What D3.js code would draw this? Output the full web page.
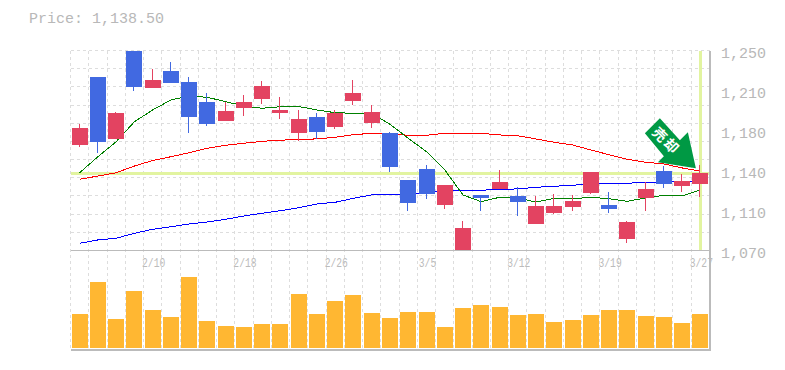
<!DOCTYPE html>
<html>
<head>
<meta charset="utf-8">
<script src="https://cdn.jsdelivr.net/npm/d3@7"></script>
<style>
    html, body { margin: 0; padding: 0; background: #fff; overflow: hidden; }
    text { font-family: "Liberation Mono", monospace; font-size: 15px; fill: #b8b8b8; }
</style>
</head>
<body>
<div id="chart"></div>
<script>
const currentPrice = 1138.5;
const candleOpen = [1165, 1226.2, 1170.4, 1249.5, 1216.3, 1231.6, 1221.7, 1203.7, 1186.6, 1198.3, 1206.4, 1193.8, 1175.8, 1190.2, 1181.2, 1204.6, 1184.8, 1175.8, 1133.5, 1143.4, 1111, 1070, 1120, 1125.4, 1119.1, 1093.8, 1103.7, 1109.2, 1121.7, 1111, 1080.4, 1117.2, 1141.6, 1128, 1129.9];
const candleClose = [1180.2, 1167.6, 1193.8, 1217.2, 1223.5, 1220.8, 1190.2, 1183.9, 1195.6, 1203.7, 1218, 1196.5, 1188.4, 1176.6, 1193.8, 1211.8, 1194.7, 1145.2, 1112.7, 1120.9, 1129, 1090.2, 1117.2, 1131.6, 1113.6, 1110, 1110, 1114.6, 1140.7, 1107.4, 1095.6, 1125.4, 1129.9, 1132.5, 1139.5];
const candleHigh = [1183.9, 1226.2, 1194.7, 1250, 1233.4, 1239.6, 1226.2, 1211.8, 1203.7, 1210, 1222.6, 1208.2, 1196.5, 1193.8, 1196.5, 1223.5, 1201, 1176.6, 1133.5, 1146.9, 1129, 1096.5, 1120, 1142.5, 1127.1, 1119.1, 1120.9, 1120, 1140.7, 1122.6, 1096.5, 1131.6, 1146, 1138.9, 1146.9];
const candleLow = [1163.2, 1157.8, 1170.4, 1213.6, 1216.3, 1220.8, 1175.8, 1182, 1186.6, 1191, 1201.9, 1188.4, 1168.6, 1170.4, 1179.4, 1201, 1180.2, 1140.7, 1105.6, 1116.4, 1107.4, 1070, 1105.6, 1125.4, 1101, 1093.8, 1102.9, 1105.6, 1120.9, 1103.7, 1076.8, 1105.6, 1126.2, 1122.6, 1118.2];
const volumes = [34, 66, 29, 57, 38, 31, 71, 27, 22, 21, 24, 24, 54, 34, 47, 53, 35, 30, 36, 36, 21, 40, 43, 41, 33, 34, 26, 28, 33, 38, 38, 32, 31, 25, 34];
const greenLine = [1140, 1154.4, 1167.9, 1185.9, 1196.5, 1205.5, 1209, 1207.9, 1203.9, 1200.1, 1198, 1199.4, 1199.6, 1196.5, 1194, 1193.5, 1193.5, 1183.6, 1171, 1158.9, 1142.5, 1120, 1113.9, 1117.9, 1117.3, 1113.6, 1117, 1116.6, 1117.9, 1116.6, 1114.3, 1117.3, 1119.7, 1119.1, 1124.5];
const redLine = [1134.1, 1137, 1140, 1146, 1151, 1154.4, 1158, 1162, 1164.7, 1166.5, 1168.3, 1169.2, 1170.1, 1170.4, 1171.9, 1174.2, 1175.5, 1174.9, 1173.7, 1173.7, 1175.5, 1175.5, 1175.5, 1174, 1173.3, 1170.4, 1167.4, 1165, 1160.5, 1156.2, 1152.1, 1149.4, 1147.9, 1144.3, 1141.5];
const blueLine = [1076.5, 1079.5, 1081, 1085.5, 1089.1, 1091.4, 1093.9, 1095.7, 1098.1, 1101.1, 1103.5, 1105.8, 1108.5, 1111.9, 1113.4, 1117, 1120, 1120.6, 1120.9, 1122, 1124.2, 1124.2, 1124.2, 1125.1, 1125.4, 1126.9, 1127.8, 1128.7, 1129.9, 1130.5, 1130.5, 1131.4, 1131.7, 1132.1, 1132.6];
const priceTicks = [1250, 1214, 1178, 1142, 1106, 1070];
const priceLabels = ["1,250", "1,210", "1,180", "1,140", "1,110", "1,070"];
const dateIndexes = [4, 9, 14, 19, 24, 29, 34];
const dateLabels = ["2/10", "2/18", "2/26", "3/5", "3/12", "3/19", "3/27"];

function renderChart() {
    const width = 785;
    const height = 370;
    const left = 70.5;
    const right = 709.5;
    const top = 50.5;
    const middle = 250.5;
    const bottom = 350;
    const candleWidth = 16;

    const svg = d3.select("#chart").append("svg")
        .attr("width", width)
        .attr("height", height)
        .style("display", "block");

    const xScale = d3.scaleBand()
        .domain(d3.range(volumes.length))
        .range([left, right])
        .paddingInner(0.124)
        .paddingOuter(0.062);
    const step = xScale.step();
    const centerX = function (i) { return xScale(i) + xScale.bandwidth() / 2; };

    const yScale = d3.scaleLinear().domain([1070, 1250]).range([middle, top]);
    const volumeScale = d3.scaleLinear().domain([0, 98]).range([348, 250]);

    const grid = svg.append("g")
        .attr("stroke", "#ddd")
        .attr("stroke-dasharray", "3,3")
        .attr("shape-rendering", "crispEdges");

    grid.selectAll("line.v")
        .data(d3.range(volumes.length))
        .join("line")
        .attr("class", "v")
        .attr("x1", function (i) { return left + i * step; })
        .attr("x2", function (i) { return left + i * step; })
        .attr("y1", top)
        .attr("y2", bottom);

    // eleven rows between the price ends
    grid.selectAll("line.h")
        .data(d3.range(11))
        .join("line")
        .attr("class", "h")
        .attr("x1", left)
        .attr("x2", right)
        .attr("y1", function (i) { return top + i * (middle - top) / 11; })
        .attr("y2", function (i) { return top + i * (middle - top) / 11; });

    // current price cross
    svg.append("line")
        .attr("x1", left)
        .attr("x2", right)
        .attr("y1", yScale(currentPrice) - 1)
        .attr("y2", yScale(currentPrice) - 1)
        .attr("stroke", "#e2f4a0")
        .attr("stroke-width", 3)
        .attr("shape-rendering", "crispEdges");
    svg.append("line")
        .attr("x1", centerX(34))
        .attr("x2", centerX(34))
        .attr("y1", top)
        .attr("y2", middle - 1)
        .attr("stroke", "#e2f4a0")
        .attr("stroke-width", 3)
        .attr("shape-rendering", "crispEdges");

    svg.selectAll("rect.volume")
        .data(volumes)
        .join("rect")
        .attr("class", "volume")
        .attr("x", function (d, i) { return Math.round(xScale(i)); })
        .attr("y", function (d) { return volumeScale(d); })
        .attr("width", candleWidth)
        .attr("height", function (d) { return volumeScale(0) - volumeScale(d); })
        .attr("fill", "#ffb732")
        .attr("shape-rendering", "crispEdges");

    const line = d3.line()
        .x(function (d, i) { return centerX(i); })
        .y(function (d) { return yScale(d); });

    [[blueLine, "#0000ff"], [redLine, "#ff0000"], [greenLine, "#008000"]].forEach(function (item) {
        svg.append("path")
            .datum(item[0])
            .attr("fill", "none")
            .attr("stroke", item[1])
            .attr("stroke-width", 1)
            .attr("shape-rendering", "crispEdges")
            .attr("d", line);
    });

    const candleColor = function (i) {
        return candleClose[i] >= candleOpen[i] ? "#e34361" : "#4169e1";
    };

    svg.selectAll("rect.wick")
        .data(d3.range(volumes.length))
        .join("rect")
        .attr("class", "wick")
        .attr("x", function (i) { return Math.round(xScale(i)) + candleWidth / 2 - 1; })
        .attr("y", function (i) { return yScale(candleHigh[i]); })
        .attr("width", 1)
        .attr("height", function (i) { return yScale(candleLow[i]) - yScale(candleHigh[i]); })
        .attr("fill", candleColor)
        .attr("shape-rendering", "crispEdges");

    svg.selectAll("rect.candle")
        .data(d3.range(volumes.length))
        .join("rect")
        .attr("class", "candle")
        .attr("x", function (i) { return Math.round(xScale(i)); })
        .attr("y", function (i) { return yScale(Math.max(candleOpen[i], candleClose[i])); })
        .attr("width", candleWidth)
        .attr("height", function (i) { return Math.abs(yScale(candleOpen[i]) - yScale(candleClose[i])); })
        .attr("fill", candleColor)
        .attr("shape-rendering", "crispEdges");

    // frame
    const frame = svg.append("g").attr("stroke", "#bbb").attr("shape-rendering", "crispEdges");
    frame.append("line").attr("x1", left).attr("x2", right).attr("y1", middle).attr("y2", middle);
    frame.append("line").attr("x1", left).attr("x2", right + 1.5).attr("y1", bottom).attr("y2", bottom).attr("stroke-width", 2);
    frame.append("line").attr("x1", right + 0.5).attr("x2", right + 0.5).attr("y1", top).attr("y2", bottom).attr("stroke-width", 2);

    // price labels sit a little under their tick
    svg.append("g")
        .selectAll("text")
        .data(priceTicks)
        .join("text")
        .attr("x", 721)
        .attr("y", function (d) { return yScale(d) + 7; })
        .text(function (d, i) { return priceLabels[i]; });

    // date labels are tall and narrow in the original
    svg.append("g")
        .selectAll("text")
        .data(dateIndexes)
        .join("text")
        .attr("x", function (d) { return centerX(d) + 1; })
        .attr("y", 267)
        .attr("text-anchor", "middle")
        .attr("textLength", function (d, i) { return dateLabels[i].length * 5.8; })
        .attr("lengthAdjust", "spacingAndGlyphs")
        .style("font-size", "13px")
        .style("fill", "#bbb")
        .text(function (d, i) { return dateLabels[i]; });

    svg.append("text")
        .attr("x", 29)
        .attr("y", 23)
        .text("Price: " + d3.format(",.2f")(currentPrice));

    // sell arrow, hung from the last candle
    const arrow = svg.append("g")
        .attr("transform", `translate(${centerX(34) - 4.5}, ${yScale(candleClose[34]) - 5})`);
    arrow.append("polygon")
        .attr("points", "0,0 -8,-36 -16,-28 -36,-50 -51,-35 -32,-12 -38,-6")
        .attr("fill", "#009944");
    arrow.append("text")
        .attr("transform", "translate(-29, -28) rotate(45)")
        .attr("text-anchor", "middle")
        .attr("dominant-baseline", "central")
        .style("font-family", '"Noto Sans CJK JP"')
        .style("font-size", "14px")
        .style("font-weight", "bold")
        .style("letter-spacing", "2px")
        .style("fill", "#fff")
        .text("売却");
}

renderChart();
</script>
</body>
</html>
